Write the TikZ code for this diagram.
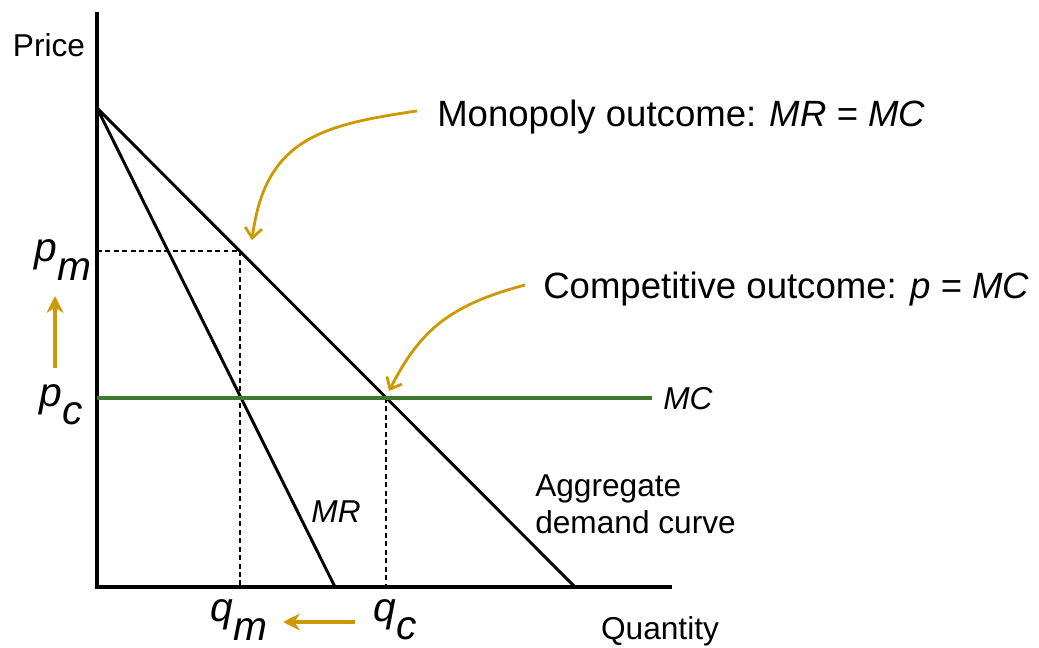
\documentclass[tikz,border=0pt]{standalone}
\usepackage{fontspec}
\setmainfont{Liberation Sans}
\usetikzlibrary{arrows.meta,positioning,calc}
\definecolor{Gold}{HTML}{CC9900}
\definecolor{Green}{HTML}{3D7A30}
\newcommand\symsub[2]{\textit{#1}\raisebox{-0.45em}{\textit{#2}}}
\tikzset{lbl/.style={font=\fontsize{22.5}{26}\selectfont,inner sep=0pt},
 big/.style={font=\fontsize{26}{30}\selectfont,inner sep=0pt},
 sym/.style={font=\fontsize{29}{32}\selectfont,inner sep=0pt},
 guide/.style={dash pattern=on 3.5pt off 2.5pt,line width=1pt},
 goldarr/.style={Gold,line width=2.2pt,-{Stealth[length=12pt,width=12pt]}},
 curvarr/.style={Gold,line width=2pt,-{Straight Barb[length=7pt,width=12pt]}}}
\begin{document}
\begin{tikzpicture}[x=0.025cm,y=-0.025cm]
\useasboundingbox (0,0) rectangle (1039,648);
% axes
\coordinate (O) at (97,587);
\coordinate (top) at (97,12);
\coordinate (xend) at (672,587);
\coordinate (A) at (97,108);
\coordinate (D) at (575,587);
\coordinate (R) at (335,587);
\coordinate (m) at (240,251);
\coordinate (c) at (386,398);
\draw[line width=2.3pt] (top) -- (O) -- (xend);
\draw[guide] (97,251) -- (m) -- (240,587);
\draw[guide] (c) -- (386,587);
\draw[line width=2.1pt] (A) -- (D);
\draw[line width=2.1pt] (A) -- (R);
\draw[Green,line width=2.2pt] (97,398) -- (652,398);
% labels
\node[lbl] (price) at (49,45) {Price};
\node[lbl] (qty) at (660,631) {Quantity};
\node[lbl,anchor=west] (mc) at (663,399) {\itshape MC};
\node[lbl] (mr) at (336,512) {\itshape MR};
\node[lbl,anchor=west,align=left] (agg) at (535,504) {Aggregate\\demand curve};
\node[sym] (pm) at (63,260) {\symsub{p}{m}};
\node[sym] (pc) at (61,405) {\symsub{p}{c}};
\node[sym] (qm) at (239,620) {\symsub{q}{m}};
\node[sym] (qc) at (395,620) {\symsub{q}{c}};
\node[big,anchor=west] (mono) at (437,117) {Monopoly outcome: \textit{MR} = \textit{MC}};
\node[big,anchor=west] (comp) at (543,289) {Competitive outcome: \textit{p} = \textit{MC}};
% arrows
\coordinate (up0) at (55,368);
\coordinate (up1) at (55,296);
\draw[goldarr] (up0) -- (up1);
\coordinate (lf0) at (355,622);
\coordinate (lf1) at (283,622);
\draw[goldarr] (lf0) -- (lf1);
\draw[curvarr] (mono.west) ++(-20,-6) .. controls (320,125) and (265,140) .. (252,240);
\draw[curvarr] (comp.west) ++(-18,-4) .. controls (450,305) and (420,330) .. (389,391);
\end{tikzpicture}
\end{document}
